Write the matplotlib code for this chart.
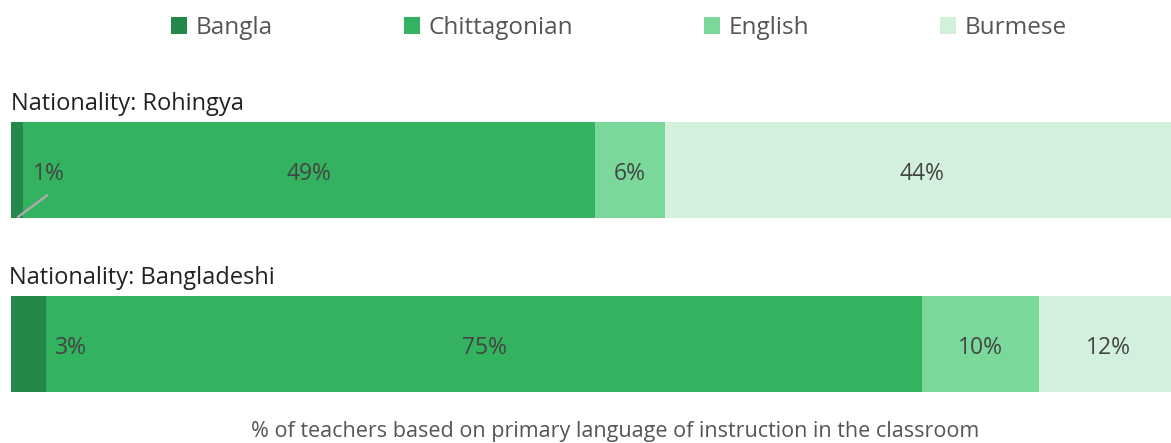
import matplotlib.pyplot as plt
from matplotlib.patches import Patch

plt.rcParams['font.family'] = ['Open Sans', 'DejaVu Sans']

languages = ['Bangla', 'Chittagonian', 'English', 'Burmese']
colors = ['#23884a', '#33b35f', '#79d89a', '#d3f0dc']
groups = ['Nationality: Bangladeshi', 'Nationality: Rohingya']
values = {
    'Bangla': [3, 1],
    'Chittagonian': [75, 49],
    'English': [10, 6],
    'Burmese': [12, 44],
}

W, H = 1171, 443
fig = plt.figure(figsize=(W / 100, H / 100), dpi=100)
# bar runs a little past the right edge, like the source crop
ax = fig.add_axes([11 / W, (H - 392) / H, 1168 / W, (392 - 122) / H])

ypos = [0, 1]
left = [0, 0]
dy = 0.025  # nudge labels down a touch
for lang, col in zip(languages, colors):
    vals = values[lang]
    ax.barh(ypos, vals, left=left, height=96 / 174, color=col, linewidth=0)
    for y, v, l in zip(ypos, vals, left):
        cx = l + v / 2
        if v <= 1:
            # tiny segment: label sits to the right with a leader line
            ax.text(l + 3.2, y - dy, f'{v}%', ha='center', va='center',
                    fontsize=16.5, color='#444444')
            ax.annotate('', xy=(l + v * 0.6, y - 0.27), xytext=(l + 3.1, y - 0.145),
                        arrowprops=dict(arrowstyle='-', color='#aaaaaa', lw=1.8,
                                        shrinkA=0, shrinkB=0))
        elif v <= 3:
            ax.text(l + v + 2.1, y - dy, f'{v}%', ha='center', va='center',
                    fontsize=16.5, color='#444444')
        else:
            ax.text(cx, y - dy, f'{v}%', ha='center', va='center',
                    fontsize=16.5, color='#444444')
    left = [a + b for a, b in zip(left, vals)]

ax.set_xlim(0, 100)
ax.set_ylim(-0.276, 1.276)
ax.axis('off')

fig.text(11 / W, 1 - 104 / H, groups[1], fontsize=17, color='#222222',
         va='center', ha='left')
fig.text(9 / W, 1 - 278 / H, groups[0], fontsize=17, color='#222222',
         va='center', ha='left')

handles = [Patch(facecolor=c, edgecolor='none', label=l) for l, c in zip(languages, colors)]
fig.legend(handles=handles, loc='center', bbox_to_anchor=(0.5286, 1 - 28 / H),
           ncol=4, frameon=False, fontsize=17.5, handlelength=0.65, handleheight=0.65,
           handletextpad=0.35, columnspacing=5.4, labelcolor='#555555')

fig.text(615 / W, 1 - 431 / H,
         '% of teachers based on primary language of instruction in the classroom',
         fontsize=15.5, color='#555555', ha='center', va='center')

fig.savefig('out.png', dpi=100)
